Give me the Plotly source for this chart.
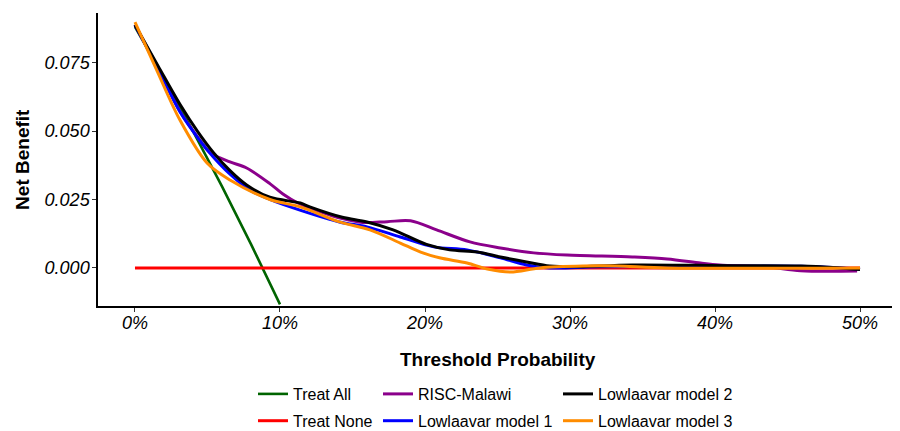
import plotly.graph_objects as go

# Threshold probabilities and net benefit values
treat_all_pt = [0.0, 0.02, 0.04, 0.06, 0.08, 0.10]
treat_all_nb = [0.0880, 0.0694, 0.0500, 0.0298, 0.0087, -0.0133]

treat_none_pt = [0.0, 0.5]
treat_none_nb = [0.0, 0.0]

risc_pt = [0, 0.016, 0.031, 0.045, 0.052, 0.0655, 0.077, 0.093, 0.102, 0.112, 0.128,
           0.143, 0.157, 0.174, 0.19, 0.208, 0.231, 0.252, 0.275, 0.298, 0.343, 0.367,
           0.39, 0.403, 0.436, 0.459, 0.498]
risc_nb = [0.0887, 0.0728, 0.0572, 0.0465, 0.0420, 0.0387, 0.0365, 0.0308, 0.0270,
           0.0238, 0.0205, 0.0180, 0.0166, 0.0169, 0.0172, 0.0139, 0.0095, 0.0073, 0.0055,
           0.0047, 0.0040, 0.0033, 0.0018, 0.0011, 0.0004, -0.0010, -0.0011]

m1_pt = [0, 0.016, 0.031, 0.045, 0.054, 0.065, 0.079, 0.093, 0.102, 0.141, 0.16, 0.183,
         0.206, 0.229, 0.252, 0.27, 0.286, 0.32, 0.4, 0.46, 0.5]
m1_nb = [0.0887, 0.0728, 0.0570, 0.0463, 0.0405, 0.0345, 0.0285, 0.0250, 0.0232, 0.0168,
         0.0150, 0.0113, 0.0077, 0.0066, 0.0037, 0.0011, 0.0000, 0.0004, 0.0006, 0.0006,
         -0.0004]

m2_pt = [0, 0.016, 0.031, 0.043, 0.054, 0.065, 0.077, 0.093, 0.114, 0.121, 0.143, 0.16,
         0.178, 0.201, 0.217, 0.236, 0.252, 0.27, 0.286, 0.302, 0.343, 0.412, 0.459,
         0.481, 0.5]
m2_nb = [0.0887, 0.0737, 0.0598, 0.0500, 0.0422, 0.0358, 0.0303, 0.0258, 0.0237, 0.0222,
         0.0185, 0.0168, 0.0139, 0.0086, 0.0066, 0.0058, 0.0040, 0.0022, 0.0007, 0.0004,
         0.0011, 0.0008, 0.0007, 0.0002, -0.0006]

m3_pt = [0, 0.015, 0.031, 0.0497, 0.0655, 0.093, 0.114, 0.141, 0.162, 0.183, 0.197, 0.21,
         0.229, 0.243, 0.259, 0.279, 0.309, 0.332, 0.367, 0.5]
m3_nb = [0.0898, 0.0722, 0.0540, 0.0383, 0.0321, 0.0250, 0.0223, 0.0168, 0.0139, 0.0091,
         0.0058, 0.0037, 0.0018, -0.0004, -0.0015, 0.0000, 0.0007, 0.0007, 0.0000, 0.0000]

x_ticks = [0, 0.1, 0.2, 0.3, 0.4, 0.5]
y_ticks = [0.0, 0.025, 0.05, 0.075]

FONT = "Liberation Sans, Arial, Helvetica, sans-serif"
W, H = 892, 423  # page body adds an 8px offset inside the 900x431 window

series = [
    ("Treat All", treat_all_pt, treat_all_nb, "#006400", 2.6, "legend", False),
    ("Treat None", treat_none_pt, treat_none_nb, "#FF0000", 3, "legend", False),
    ("RISC-Malawi", risc_pt, risc_nb, "#8B008B", 3, "legend2", True),
    ("Lowlaavar model 1", m1_pt, m1_nb, "#0000FF", 3, "legend2", True),
    ("Lowlaavar model 2", m2_pt, m2_nb, "#000000", 3, "legend3", True),
    ("Lowlaavar model 3", m3_pt, m3_nb, "#FF8C00", 3, "legend3", True),
]

fig = go.Figure()
for name, xs, ys, color, w, leg, smooth in series:
    fig.add_trace(go.Scatter(
        x=xs, y=ys, mode="lines", name=name, legend=leg, legendgroup=name,
        line=dict(color=color, width=w, shape="spline" if smooth else "linear",
                  smoothing=0.9),
    ))

leg_common = dict(
    orientation="v", xref="container", yref="container", xanchor="left",
    yanchor="top", font=dict(family=FONT, size=16, color="#000000"),
    bgcolor="rgba(0,0,0,0)", tracegroupgap=3, y=1 - 369 / H,
)
fig.update_layout(
    width=W, height=H, autosize=False,
    margin=dict(l=90, r=3, t=5, b=125, autoexpand=False),
    plot_bgcolor="white", paper_bgcolor="white",
    font=dict(family=FONT, color="#000000"),
    legend=dict(x=245 / W, **leg_common),
    legend2=dict(x=370 / W, **leg_common),
    legend3=dict(x=550 / W, **leg_common),
    xaxis=dict(
        range=[-0.0255, 0.5255], tickvals=x_ticks, tickformat=".0%",
        showgrid=False, zeroline=False, showline=True, linecolor="#000000",
        linewidth=1.5, ticks="outside", ticklen=4, tickcolor="#333333", tickwidth=1.3,
        automargin=False, ticklabelstandoff=-4,
        tickfont=dict(family=FONT, size=18, style="italic", color="#000000"),
    ),
    yaxis=dict(
        range=[-0.0139, 0.0931], tickvals=y_ticks, tickformat=".3f",
        showgrid=False, zeroline=False, showline=True, linecolor="#000000",
        linewidth=1.5, ticks="outside", ticklen=4, tickcolor="#333333", tickwidth=1.3,
        automargin=False, ticklabelstandoff=-1,
        tickfont=dict(family=FONT, size=18, style="italic", color="#000000"),
    ),
    annotations=[
        dict(text="<b>Threshold Probability</b>", xref="paper", yref="paper",
             x=0.5, y=-0.184, xanchor="center", yanchor="middle", showarrow=False,
             font=dict(family=FONT, size=19, color="#000000")),
        dict(text="<b>Net Benefit</b>", xref="paper", yref="paper",
             x=-0.0939, y=0.502, xanchor="center", yanchor="middle", showarrow=False,
             textangle=-90, font=dict(family=FONT, size=19, color="#000000")),
    ],
)

fig.write_html("out.html")
